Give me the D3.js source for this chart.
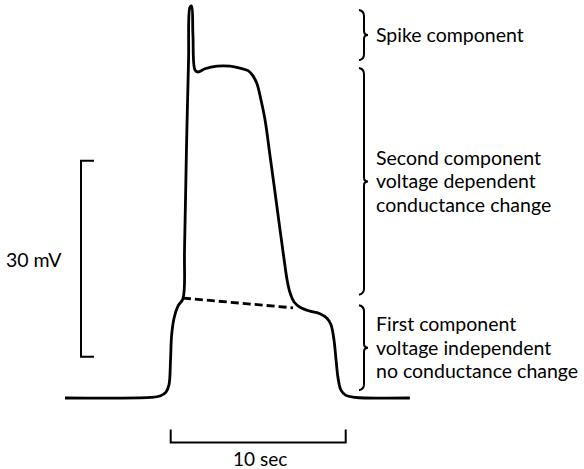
<!DOCTYPE html>
<html>
<head>
<meta charset="utf-8">
<script src="https://cdn.jsdelivr.net/npm/d3@7"></script>
<style>
  html, body { margin: 0; padding: 0; background: #fff; }
  text { font-family: Lato, "Open Sans", sans-serif; fill: #000; }
</style>
</head>
<body>
<svg id="chart"></svg>
<script>
// membrane potential trace, time in sec (0 = start of scale bar), voltage in mV above rest
const traceTime = [-6.04, -1.18, -0.61, -0.27, -0.10, -0.01, 0.05, 0.19, 0.42, 0.70,
  0.79, 0.90, 1.02, 1.10, 1.19, 1.27, 1.39, 1.56, 1.96, 2.65, 3.39, 3.96, 4.42, 4.70,
  4.93, 5.16, 5.39, 5.67, 5.96, 6.25, 6.47, 6.65, 6.82, 7.05, 7.39, 7.96, 8.53, 8.93,
  9.16, 9.33, 9.45, 9.56, 9.73, 10.01, 10.53, 11.1, 13.67];
const traceMv = [0, 0.08, 0.3, 0.9, 2.0, 5.8, 9.5, 12.2, 14.1, 15.2,
  22.7, 38.0, 51.7, 59.8, 60.0, 55.6, 50.2, 49.9, 50.4, 50.8, 50.8, 50.5, 50.1, 49.3,
  48.1, 45.6, 42.6, 37.2, 31.5, 25.7, 21.4, 18.1, 16.1, 14.7, 13.9, 13.3, 12.9, 12.2,
  11.2, 8.9, 5.8, 3.1, 1.2, 0.4, 0.1, 0, 0];

// first component extrapolated under the second (dashed)
const dashTime = [0.70, 6.99];
const dashMv = [15.3, 13.8];

// scale bars
const timeBar = [0, 10];       // sec
const voltBar = [6.3, 36.3];   // mV

// braces: [top mV, bottom mV] and labels
const braceRanges = [[59.4, 51.7], [50.5, 15.8], [14.2, 1.2]];
const braceLabels = [
  ["Spike component"],
  ["Second component", "voltage dependent", "conductance change"],
  ["First component", "voltage independent", "no conductance change"]
];

const width = 584, height = 469;
const svg = d3.select("#chart")
  .attr("width", width)
  .attr("height", height);

const x = d3.scaleLinear().domain([0, 10]).range([170.7, 345.7]);
const y = d3.scaleLinear().domain([0, 30]).range([398, 202]);

const line = d3.line()
  .x(d => x(d[0]))
  .y(d => y(d[1]))
  .curve(d3.curveCatmullRom.alpha(0.5));

svg.append("path")
  .datum(d3.zip(traceTime, traceMv))
  .attr("d", line)
  .attr("fill", "none")
  .attr("stroke", "#000")
  .attr("stroke-width", 2.8)
  .attr("stroke-linejoin", "round");

svg.append("path")
  .datum(d3.zip(dashTime, dashMv))
  .attr("d", d3.line().x(d => x(d[0])).y(d => y(d[1])))
  .attr("fill", "none")
  .attr("stroke", "#000")
  .attr("stroke-width", 2.8)
  .attr("stroke-dasharray", "8,4");

// vertical 30 mV bar
const vx = 81;
svg.append("path")
  .attr("d", `M${vx + 13},${y(voltBar[1])}H${vx}V${y(voltBar[0])}H${vx + 13}`)
  .attr("fill", "none")
  .attr("stroke", "#000")
  .attr("stroke-width", 2);
svg.append("text")
  .attr("x", 6)
  .attr("y", (y(voltBar[0]) + y(voltBar[1])) / 2 + 8)
  .attr("font-size", 19.5)
  .text("30 mV");

// horizontal 10 sec bar
const hy = 442.5;
svg.append("path")
  .attr("d", `M${x(timeBar[0])},${hy - 13}V${hy}H${x(timeBar[1])}V${hy - 13}`)
  .attr("fill", "none")
  .attr("stroke", "#000")
  .attr("stroke-width", 2);
svg.append("text")
  .attr("x", (x(timeBar[0]) + x(timeBar[1])) / 2 + 2)
  .attr("y", 466)
  .attr("text-anchor", "middle")
  .attr("font-size", 19)
  .text("10 sec");

// braces
const bx = 364;
function bracePath(y0, y1) {
  const ym = (y0 + y1) / 2;
  return `M${bx - 5},${y0} Q${bx},${y0 + 1} ${bx},${y0 + 6}` +
    ` L${bx},${ym - 4} Q${bx},${ym} ${bx + 4},${ym} Q${bx},${ym} ${bx},${ym + 4}` +
    ` L${bx},${y1 - 6} Q${bx},${y1 - 1} ${bx - 5},${y1}`;
}

braceRanges.forEach((r, i) => {
  const y0 = y(r[0]), y1 = y(r[1]);
  svg.append("path")
    .attr("d", bracePath(y0, y1))
    .attr("fill", "none")
    .attr("stroke", "#000")
    .attr("stroke-width", 2);
  const lines = braceLabels[i];
  const ym = (y0 + y1) / 2;
  const lh = 23.5;
  const t = svg.append("text")
    .attr("font-size", 19.5);
  lines.forEach((s, j) => {
    t.append("tspan")
      .attr("x", 376)
      .attr("y", ym + 7 + (j - (lines.length - 1) / 2) * lh)
      .text(s);
  });
});
</script>
</body>
</html>
